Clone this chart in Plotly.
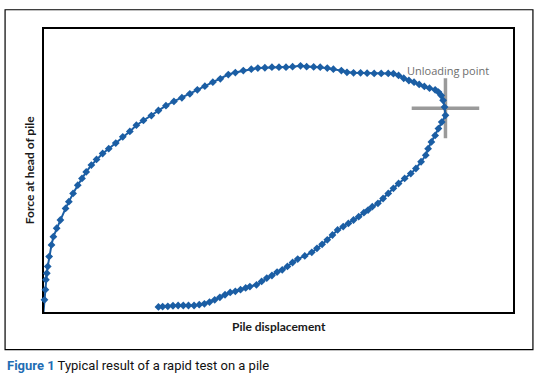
import plotly.graph_objects as go

# Pile displacement (arbitrary units) and force at head of pile (arbitrary units)
displacement = [
    -0.1, 0.1, 0.3, 0.4, 0.6, 0.8, 1.1, 1.6, 2.0, 2.7, 3.5, 4.6, 5.3, 6.2, 7.2, 8.1, 9.0,
    10.1, 11.2, 12.5, 13.8, 15.3, 16.8, 18.3, 19.7, 21.2, 22.9, 24.4, 26.0, 27.7, 29.4,
    31.1, 32.7, 34.3, 36.0, 37.6, 39.3, 40.8, 42.5, 44.2, 45.6, 47.1, 48.6, 50.1, 51.6,
    53.0, 54.7, 56.0, 57.5, 58.9, 60.4, 61.7, 63.4, 64.6, 66.0, 67.5, 68.9, 70.4, 71.9,
    73.4, 74.5, 75.6, 76.7, 77.8, 78.9, 80.0, 81.1, 82.2, 83.4, 84.1, 84.7, 85.1, 85.4,
    85.6,
    84.8, 84.1, 83.4, 82.6, 81.9, 81.4, 80.4, 79.3, 78.2, 76.9, 75.6, 74.5, 73.4, 72.3,
    71.2, 70.0, 69.1, 68.2, 67.1, 66.0, 64.9, 63.8, 62.6, 61.5, 60.4, 59.3, 58.2, 57.1,
    55.6, 54.1, 53.0, 51.9, 50.8, 49.7, 48.6, 47.5, 46.4, 45.3, 43.9, 43.0, 41.9, 40.8,
    39.7, 38.6, 37.5, 36.4, 35.3, 34.2, 33.1, 32.0, 30.8, 29.7, 28.6, 27.5, 26.4, 25.3,
    24.4,
]
force = [
    0.0, 4.3, 7.9, 11.4, 13.7, 16.1, 19.6, 23.7, 26.6, 29.6, 32.5, 36.6, 39.0, 41.9, 44.8,
    47.2, 49.5, 51.9, 53.9, 56.0, 57.7, 59.7, 61.9, 63.8, 66.0, 67.7, 69.4, 71.2, 72.9,
    74.4, 75.7, 77.1, 78.5, 79.8, 81.2, 82.4, 83.9, 84.6, 85.3, 85.8, 86.2, 86.3, 86.5,
    86.5, 86.5, 86.7, 87.0, 86.7, 86.6, 86.5, 86.2, 85.8, 85.3, 84.7, 84.5, 84.5, 84.4,
    84.3, 84.3, 84.3, 84.2, 83.6, 82.6, 81.8, 81.2, 80.4, 79.7, 79.1, 78.5, 77.7, 76.5,
    74.8, 72.4, 69.5,
    67.1, 64.8, 62.4, 60.1, 57.7, 55.4, 53.1, 50.7, 48.9, 47.2, 45.4, 43.7, 41.9, 40.1,
    38.4, 37.2, 36.0, 35.1, 33.7, 32.5, 31.3, 30.2, 29.0, 27.2, 25.5, 23.9, 22.5, 21.1,
    19.8, 18.7, 17.5, 16.1, 14.9, 14.1, 12.9, 12.0, 10.8, 9.6, 9.0, 8.5, 7.9, 7.3,
    6.9, 6.1, 5.2, 4.3, 3.5, 2.9, 2.6, 2.3, 2.3, 2.3, 2.3, 2.2, 2.0, 1.9,
    1.8,
]

# Unloading point (centre of the grey cross) and half-lengths of its arms
unloading_x = 85.6
unloading_y = 72.0
cross_half_x = 7.2
cross_half_y = 10.6
unloading_label = "Unloading point"

x_title = "Pile displacement"
y_title = "Force at head of pile"
caption_label = "Figure 1"
caption_text = "Typical result of a rapid test on a pile"

BLUE = "#1b5ea4"
GREY = "#9a9a9a"

fig = go.Figure()

fig.add_trace(go.Scatter(
    x=[unloading_x - cross_half_x, unloading_x + cross_half_x, None, unloading_x, unloading_x],
    y=[unloading_y, unloading_y, None, unloading_y + cross_half_y, unloading_y - cross_half_y],
    mode="lines", line=dict(color=GREY, width=3.5),
    cliponaxis=False, showlegend=False, hoverinfo="skip",
))

fig.add_trace(go.Scatter(
    x=displacement, y=force, mode="lines+markers",
    line=dict(color=BLUE, width=2),
    marker=dict(symbol="diamond", size=6, color=BLUE),
    cliponaxis=False, showlegend=False, hoverinfo="skip",
))

fig.add_annotation(
    x=unloading_x + 0.5, y=85.3, xref="x", yref="y", text=unloading_label, showarrow=False,
    font=dict(family="Open Sans, sans-serif", size=11, color="#6e6e6e"),
)

fig.add_annotation(
    x=0.5, y=-0.052, xref="paper", yref="paper", text=f"<b>{x_title}</b>",
    showarrow=False, yanchor="middle",
    font=dict(family="Lato, sans-serif", size=12, color="#1a1a1a"),
)
fig.add_annotation(
    x=-0.0305, y=0.5, xref="paper", yref="paper", text=f"<b>{y_title}</b>",
    showarrow=False, textangle=-90, xanchor="center",
    font=dict(family="Lato, sans-serif", size=12, color="#1a1a1a"),
)
fig.add_annotation(
    x=-0.083, y=-0.19, xref="paper", yref="paper", xanchor="left", yanchor="middle",
    text=f"<b><span style='color:#1f6db3'>{caption_label}</span></b> {caption_text}",
    showarrow=False,
    font=dict(family="Liberation Sans Narrow, Roboto, sans-serif", size=13, color="#111111"),
)

# outer frame
fig.add_shape(type="rect", xref="paper", yref="paper",
              x0=-0.083, x1=1.0425, y0=-0.133, y1=1.068,
              line=dict(color="#000000", width=1.2))

axis_common = dict(showgrid=False, zeroline=False, showticklabels=False, ticks="",
                   showline=True, mirror=True, linecolor="#000000", linewidth=1.5,
                   layer="below traces")
fig.update_xaxes(range=[0, 100], **axis_common)
fig.update_yaxes(range=[0, 100], **axis_common)

fig.update_layout(
    width=544, height=381,
    margin=dict(l=44, r=31, t=29, b=69),
    paper_bgcolor="white", plot_bgcolor="white",
)

fig.write_html("out.html", config={"displayModeBar": False},
               post_script="document.body.style.margin='0';")
